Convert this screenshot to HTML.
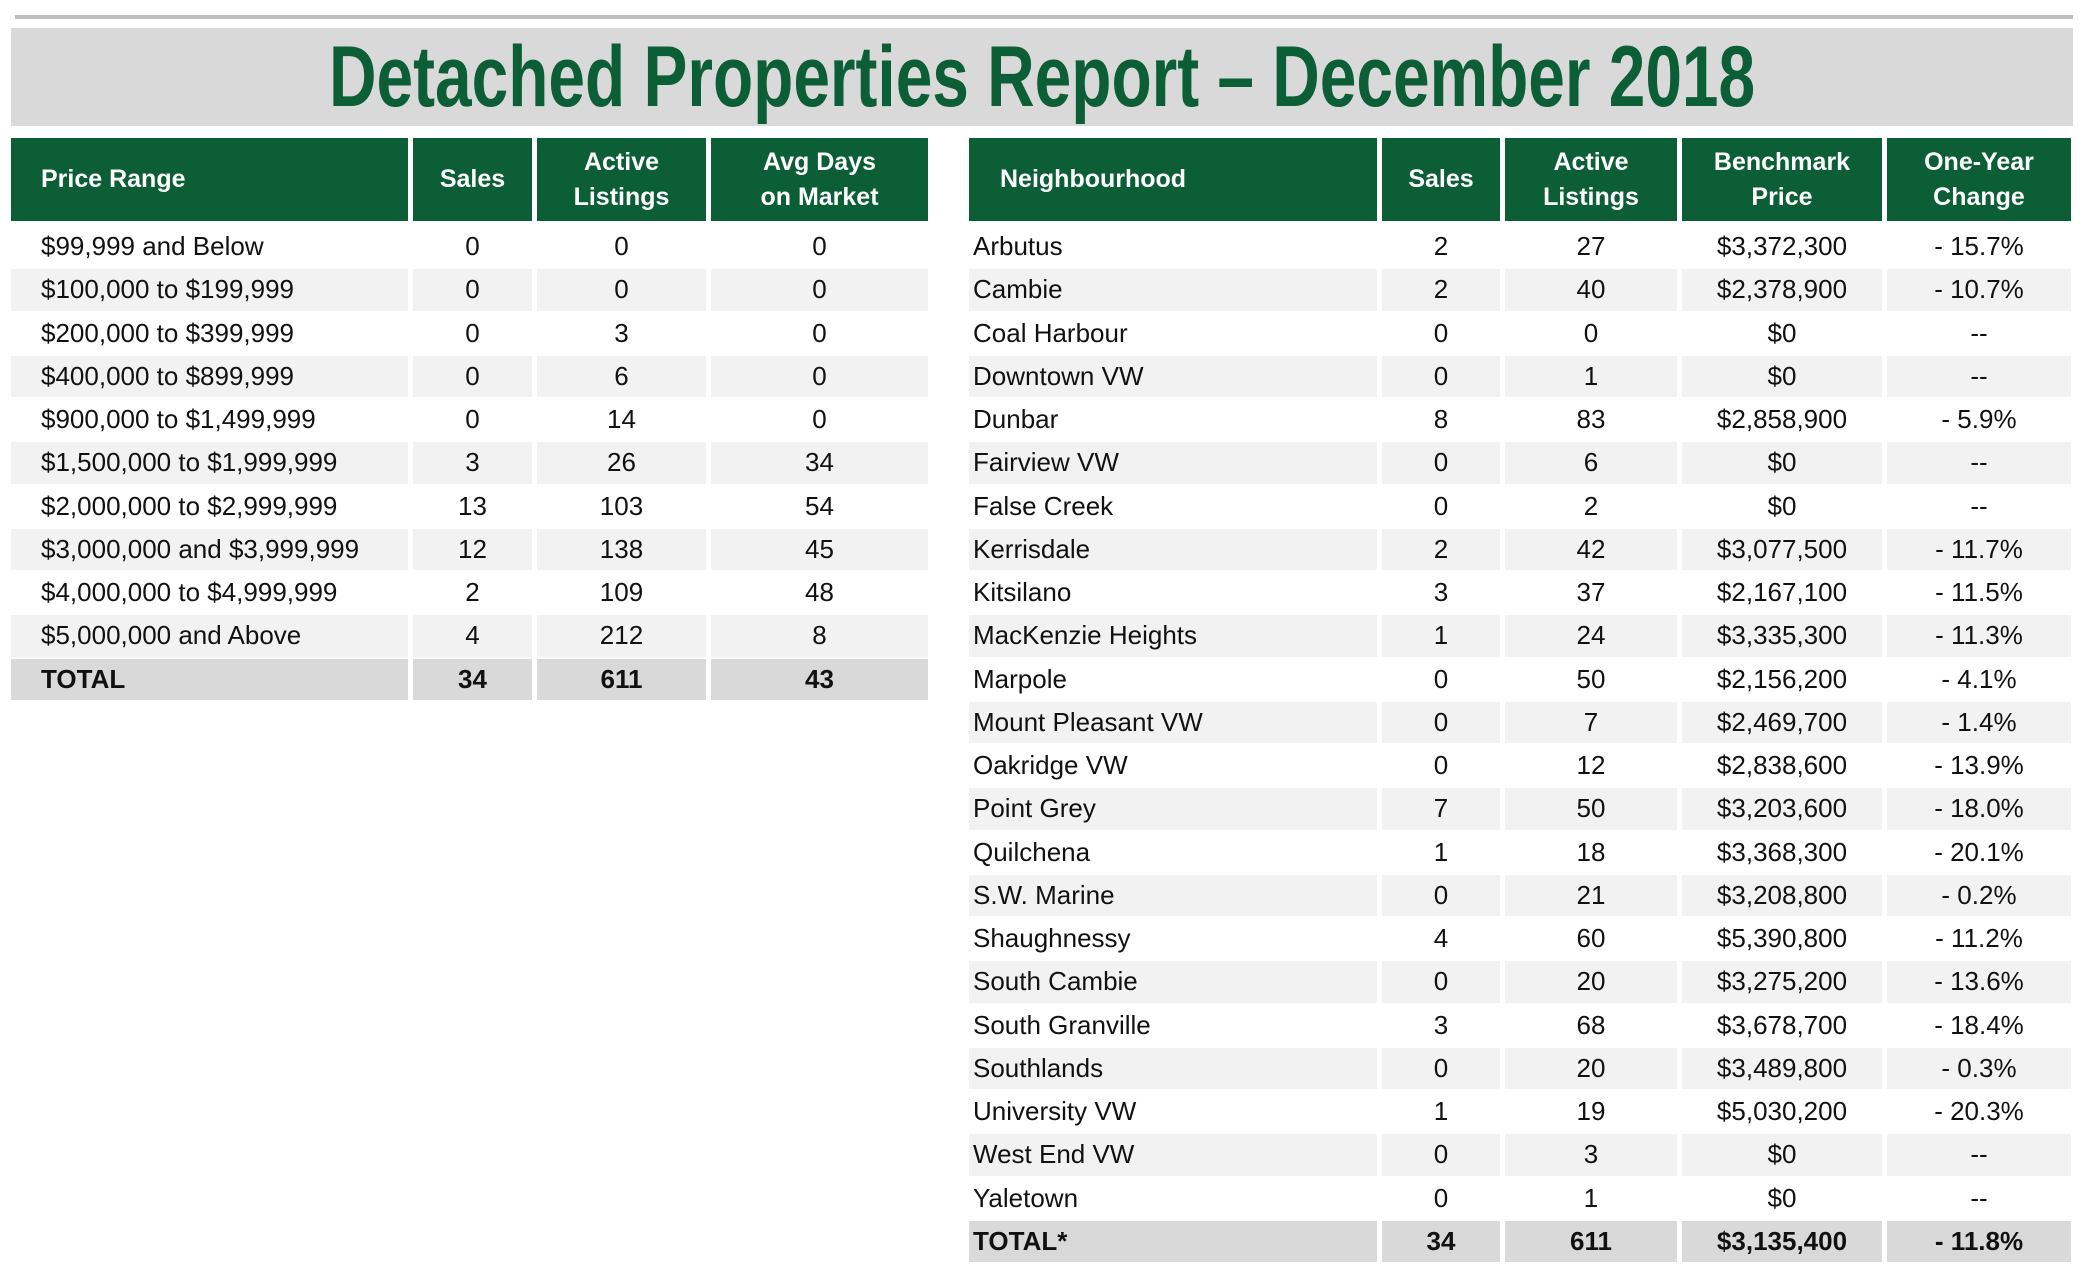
<!DOCTYPE html>
<html><head><meta charset="utf-8">
<style>
body{margin:0;width:2084px;height:1280px;background:#fff;position:relative;overflow:hidden;font-family:"Liberation Sans",Arial,sans-serif;}
.abs{position:absolute;box-sizing:border-box;}
.cell{position:absolute;box-sizing:border-box;display:flex;align-items:center;font-size:26px;color:#111;white-space:nowrap;}
.hd{background:#0b5e35;color:#fff;font-weight:bold;justify-content:center;text-align:center;line-height:35px;font-size:25px;}
</style></head>
<body>
<div class="abs" style="left:15px;top:15px;width:2058px;height:4px;background:#bdbdbd"></div>
<div class="abs" style="left:11px;top:28px;width:2062px;height:98px;background:#d9d9d9;text-align:center;">
<div style="display:inline-block;font-weight:bold;color:#0b5e35;font-size:86px;line-height:98px;transform:scaleX(0.765);transform-origin:center;white-space:nowrap;">Detached Properties Report – December 2018</div>
</div>
<div id="root"></div>
<script>
const leftHeaders=["Price Range","Sales","Active<br>Listings","Avg Days<br>on Market"];
const leftCats=["$99,999 and Below","$100,000 to $199,999","$200,000 to $399,999","$400,000 to $899,999","$900,000 to $1,499,999","$1,500,000 to $1,999,999","$2,000,000 to $2,999,999","$3,000,000 and $3,999,999","$4,000,000 to $4,999,999","$5,000,000 and Above"];
const leftSales=[0,0,0,0,0,3,13,12,2,4];
const leftActive=[0,0,3,6,14,26,103,138,109,212];
const leftDays=[0,0,0,0,0,34,54,45,48,8];
const leftTotal=["TOTAL","34","611","43"];
const rightHeaders=["Neighbourhood","Sales","Active<br>Listings","Benchmark<br>Price","One-Year<br>Change"];
const rightCats=["Arbutus","Cambie","Coal Harbour","Downtown VW","Dunbar","Fairview VW","False Creek","Kerrisdale","Kitsilano","MacKenzie Heights","Marpole","Mount Pleasant VW","Oakridge VW","Point Grey","Quilchena","S.W. Marine","Shaughnessy","South Cambie","South Granville","Southlands","University VW","West End VW","Yaletown"];
const rightSales=[2,2,0,0,8,0,0,2,3,1,0,0,0,7,1,0,4,0,3,0,1,0,0];
const rightActive=[27,40,0,1,83,6,2,42,37,24,50,7,12,50,18,21,60,20,68,20,19,3,1];
const rightPrice=["$3,372,300","$2,378,900","$0","$0","$2,858,900","$0","$0","$3,077,500","$2,167,100","$3,335,300","$2,156,200","$2,469,700","$2,838,600","$3,203,600","$3,368,300","$3,208,800","$5,390,800","$3,275,200","$3,678,700","$3,489,800","$5,030,200","$0","$0"];
const rightChange=["- 15.7%","- 10.7%","--","--","- 5.9%","--","--","- 11.7%","- 11.5%","- 11.3%","- 4.1%","- 1.4%","- 13.9%","- 18.0%","- 20.1%","- 0.2%","- 11.2%","- 13.6%","- 18.4%","- 0.3%","- 20.3%","--","--"];
const rightTotal=["TOTAL*","34","611","$3,135,400","- 11.8%"];

const root=document.getElementById('root');
const ROW0=225, RH=43.25;
function mk(x,y,w,h,html,cls,pad,bg,bold){
  const d=document.createElement('div');
  d.className='cell '+(cls||'');
  d.style.left=x+'px';d.style.top=y+'px';d.style.width=w+'px';d.style.height=h+'px';
  if(bg)d.style.background=bg;
  if(bold)d.style.fontWeight='bold';
  if(!cls){d.style.justifyContent=pad!=null?'flex-start':'center';if(pad!=null)d.style.paddingLeft=pad+'px';}
  d.innerHTML=html;
  root.appendChild(d);
  return d;
}
function table(cols,headers,columns,total,prefix,hpad,pad){
  headers.forEach((h,c)=>{
    const d=mk(cols[c][0],138,cols[c][1]-cols[c][0],83,h,'hd');
    if(c===0){d.style.justifyContent='flex-start';d.style.paddingLeft=hpad+'px';}
    
    
  });
  const n=columns[0].length;
  for(let r=0;r<=n;r++){
    const y=ROW0+r*RH;
    const isT=r===n;
    const bg=isT?'#d9d9d9':(r%2===1?'#f2f2f2':null);
    for(let c=0;c<cols.length;c++){
      const v=isT?total[c]:columns[c][r];
      const d=mk(cols[c][0],y+1,cols[c][1]-cols[c][0],RH-2,v,null,c===0?pad:null,bg,isT);
      
      
    }
  }
}
table([[11,408],[413,532],[537,706],[711,928]],leftHeaders,[leftCats,leftSales,leftActive,leftDays],leftTotal,'price-range',30,30);
table([[969,1377],[1382,1500],[1505,1677],[1682,1882],[1887,2071]],rightHeaders,[rightCats,rightSales,rightActive,rightPrice,rightChange],rightTotal,'neighbourhood',31,4);
</script>
</body></html>
